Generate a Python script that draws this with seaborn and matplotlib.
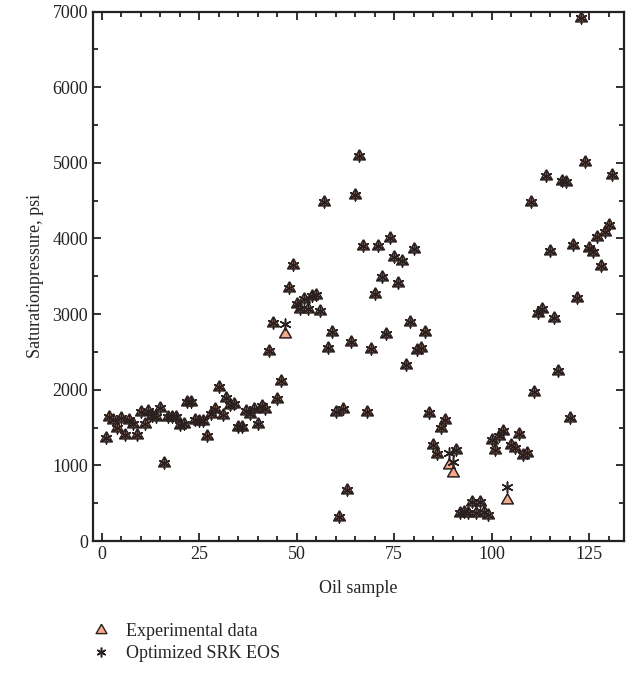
import numpy as np
import pandas as pd
import matplotlib
matplotlib.use("Agg")
import matplotlib.pyplot as plt
import seaborn as sns
from matplotlib.ticker import MultipleLocator
from matplotlib.lines import Line2D

# ==========================================
# Data
# ==========================================

sample = list(range(1, 132))

experimental = [
    1365, 1638, 1605, 1500, 1620, 1406, 1600, 1548, 1406, 1702,
    1552, 1715, 1655, 1640, 1760, 1030, 1640, 1640, 1640, 1540,
    1548, 1840, 1840, 1605, 1585, 1592, 1383, 1684, 1745, 2040,
    1660, 1888, 1804, 1810, 1503, 1503, 1720, 1680, 1740, 1550,
    1785, 1740, 2511, 2887, 1883, 2113, 2741, 3351, 3647, 3130,
    3064, 3196, 3073, 3240, 3249, 3035, 4479, 2556, 2763, 1700,
    322, 1740, 676, 2630, 4580, 5085, 3903, 1707, 2533, 3263,
    3903, 3484, 2732, 4001, 3757, 3408, 3704, 2321, 2895, 3859,
    2524, 2556, 2763, 1694, 1273, 1150, 1495, 1605, 1008, 906,
    1200, 367, 389, 367, 521, 367, 521, 389, 350, 1340,
    1207, 1383, 1459, 544, 1273, 1229, 1419, 1141, 1163, 4478,
    1967, 3020, 3064, 4832, 3837, 2954, 2245, 4765, 4752, 1627,
    3912, 3210, 6910, 5017, 3869, 3816, 4015, 3638, 4089, 4178,
    4845,
]

optimized_srk = [
    1365, 1638, 1605, 1500, 1620, 1406, 1600, 1548, 1406, 1702,
    1552, 1715, 1655, 1640, 1760, 1030, 1640, 1640, 1640, 1540,
    1548, 1840, 1840, 1605, 1585, 1592, 1383, 1684, 1745, 2040,
    1660, 1888, 1804, 1810, 1503, 1503, 1720, 1680, 1740, 1550,
    1785, 1740, 2511, 2887, 1883, 2113, 2865, 3351, 3647, 3130,
    3064, 3196, 3073, 3240, 3249, 3035, 4479, 2556, 2763, 1700,
    322, 1740, 676, 2630, 4580, 5085, 3903, 1707, 2533, 3263,
    3903, 3484, 2732, 4001, 3757, 3408, 3704, 2321, 2895, 3859,
    2524, 2556, 2763, 1694, 1273, 1150, 1495, 1605, 1170, 1040,
    1200, 367, 389, 367, 521, 367, 521, 389, 350, 1340,
    1207, 1383, 1459, 720, 1273, 1229, 1419, 1141, 1163, 4478,
    1967, 3020, 3064, 4832, 3837, 2954, 2245, 4765, 4752, 1627,
    3912, 3210, 6910, 5017, 3869, 3816, 4015, 3638, 4089, 4178,
    4845,
]

x_ticks = [0, 25, 50, 75, 100, 125]
y_ticks = [0, 1000, 2000, 3000, 4000, 5000, 6000, 7000]

df = pd.DataFrame({"sample": sample, "exp": experimental, "srk": optimized_srk})

# ==========================================
# Plot
# ==========================================

sns.set_style("ticks")
plt.rcParams["font.family"] = ["Liberation Serif", "DejaVu Serif"]
plt.rcParams["font.size"] = 13

tri_color = "#F4A98A"
edge_color = "#2a2020"
# equilateral triangle centred on its centroid
tri_marker = [(0, 0.577), (-0.5, -0.289), (0.5, -0.289), (0, 0.577)]
ast_marker = (6, 2, 0)

fig = plt.figure(figsize=(6.33, 6.78), dpi=100)
ax = fig.add_axes([0.147, 0.202, 0.839, 0.781])

sns.scatterplot(data=df, x="sample", y="exp", marker=tri_marker, s=95,
                color=tri_color, edgecolor=edge_color, linewidth=1.1, ax=ax, zorder=3)
sns.scatterplot(data=df, x="sample", y="srk", marker=ast_marker, s=62,
                color=edge_color, edgecolor=edge_color, linewidth=1.1, ax=ax, zorder=4)

ax.set_xlim(-2.2, 134)
ax.set_ylim(0, 7000)
ax.set_xticks(x_ticks)
ax.set_yticks(y_ticks)
ax.xaxis.set_minor_locator(MultipleLocator(5))
ax.yaxis.set_minor_locator(MultipleLocator(500))
ax.tick_params(which="both", direction="in", top=True, right=True,
               width=1.3, colors="#222222", labelcolor="#222222")
ax.tick_params(which="major", length=6, labelsize=13)
ax.tick_params(which="minor", length=3.5)
for sp in ax.spines.values():
    sp.set_linewidth(1.6)
    sp.set_color("#222222")

ax.set_xlabel("Oil sample", fontsize=13, labelpad=12)
ax.set_ylabel("Saturationpressure, psi", fontsize=13, labelpad=6)

handles = [
    Line2D([], [], linestyle="none", marker=tri_marker, markersize=9,
           markerfacecolor=tri_color, markeredgecolor=edge_color, markeredgewidth=1.0),
    Line2D([], [], linestyle="none", marker=ast_marker, markersize=7,
           color=edge_color, markeredgewidth=1.1),
]
ax.legend(handles, ["Experimental data", "Optimized SRK EOS"],
          loc="upper left", bbox_to_anchor=(0.145, 0.081),
          bbox_transform=fig.transFigure, frameon=False,
          handlelength=1.0, handletextpad=0.9, labelspacing=0.3,
          borderpad=0, borderaxespad=0, fontsize=13)

fig.savefig("out.png", dpi=100)
